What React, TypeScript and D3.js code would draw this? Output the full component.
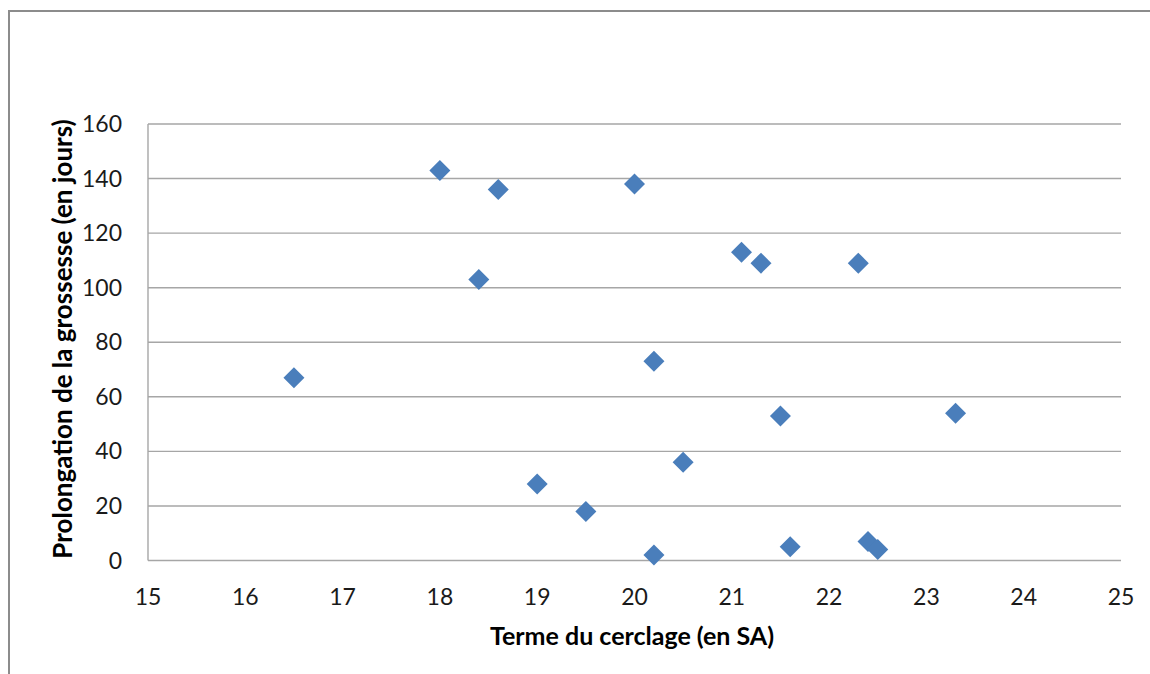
import React from "react";
import * as d3 from "d3";

const termeSA = [16.5, 18.0, 18.4, 18.6, 19.0, 19.5, 20.0, 20.2, 20.2, 20.5, 21.1, 21.3, 21.5, 21.6, 22.3, 22.4, 22.5, 23.3];
const prolongationJours = [67, 143, 103, 136, 28, 18, 138, 73, 2, 36, 113, 109, 53, 5, 109, 7, 4, 54];
const xTicks = [15, 16, 17, 18, 19, 20, 21, 22, 23, 24, 25];
const yTicks = [0, 20, 40, 60, 80, 100, 120, 140, 160];
const xTitle = "Terme du cerclage (en SA)";
const yTitle = "Prolongation de la grossesse (en jours)";

const W = 1150;
const H = 674;
const plot = { left: 148, right: 1121, top: 124, bottom: 560.5 };

export default function App() {
  const x = d3.scaleLinear().domain([15, 25]).range([plot.left, plot.right]);
  const y = d3.scaleLinear().domain([0, 160]).range([plot.bottom, plot.top]);
  const diamond = d3.symbol().type(d3.symbolSquare).size(2 * 10.5 * 10.5);
  const font = "Lato, 'Open Sans', sans-serif";

  return (
    <svg
      width={W}
      height={H}
      style={{ position: "absolute", left: 0, top: 0, display: "block", background: "#fff" }}
    >
      <rect x={9} y={11} width={W + 20} height={H + 20} fill="#fff" stroke="#8c8c8c" strokeWidth={2} />
      {yTicks.map((t) => (
        <line key={"g" + t} x1={plot.left} x2={plot.right} y1={y(t)} y2={y(t)} stroke="#a6a6a6" strokeWidth={1.4} />
      ))}
      <line x1={plot.left} x2={plot.left} y1={plot.top} y2={plot.bottom} stroke="#a6a6a6" strokeWidth={1.4} />
      {yTicks.map((t) => (
        <text
          key={"yl" + t}
          x={plot.left - 26}
          y={y(t)}
          dy="0.35em"
          textAnchor="end"
          fontFamily={font}
          fontSize={23}
          fill="#1a1a1a"
        >
          {t}
        </text>
      ))}
      {xTicks.map((t) => (
        <text
          key={"xl" + t}
          x={x(t)}
          y={605}
          textAnchor="middle"
          fontFamily={font}
          fontSize={23}
          fill="#1a1a1a"
        >
          {t}
        </text>
      ))}
      <text x={632} y={645} textAnchor="middle" fontFamily={font} fontWeight="bold" fontSize={25} fill="#000">
        {xTitle}
      </text>
      <text
        transform={`translate(72, 339) rotate(-90)`}
        textAnchor="middle"
        fontFamily={font}
        fontWeight="bold"
        fontSize={26}
        fill="#000"
      >
        {yTitle}
      </text>
      {termeSA.map((v, i) => (
        <path
          key={"p" + i}
          d={diamond() as string}
          transform={`translate(${x(v)}, ${y(prolongationJours[i])}) rotate(45)`}
          fill="#4a7ebb"
        />
      ))}
    </svg>
  );
}
